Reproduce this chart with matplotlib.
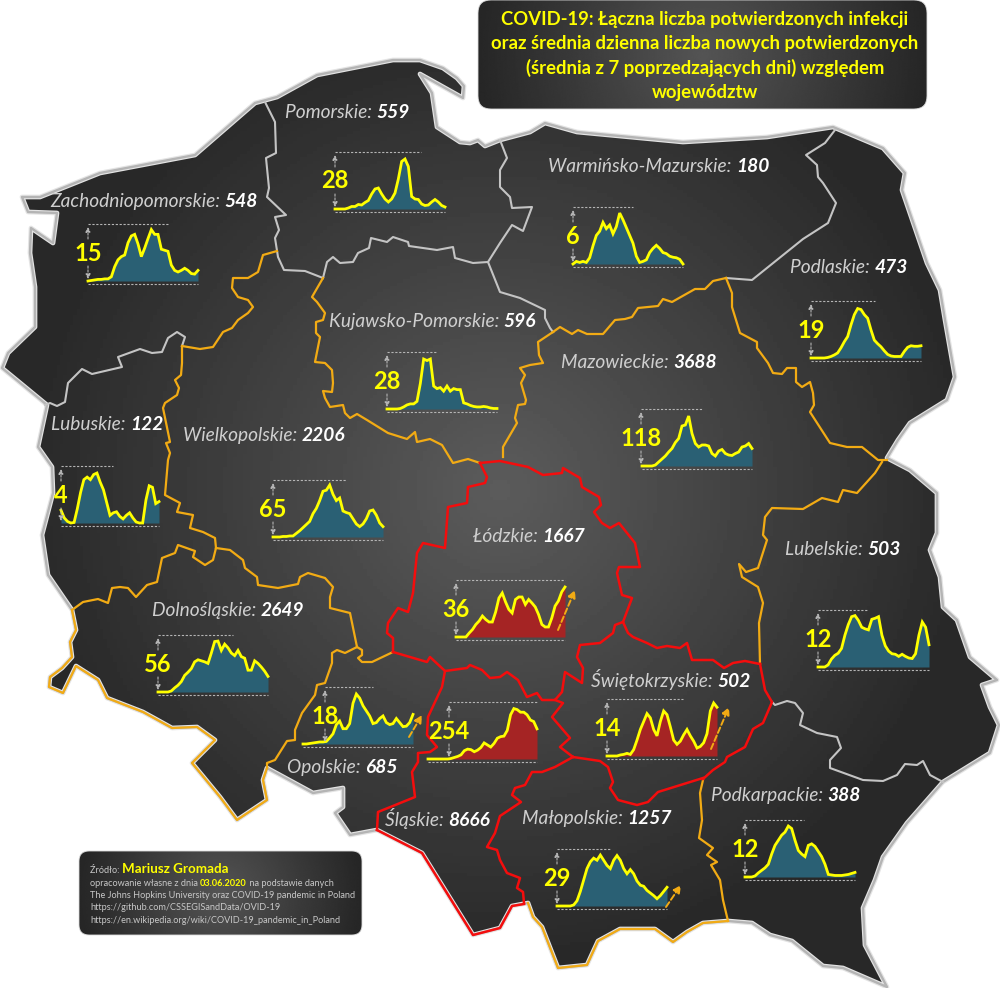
import numpy as np
import matplotlib
matplotlib.use('Agg')
import matplotlib.pyplot as plt
from matplotlib.patches import Polygon, FancyBboxPatch

plt.rcParams['font.family'] = ['Lato', 'DejaVu Sans']

W, H = 1000, 988
YELLOW = '#ffff00'
ORANGE = '#f2ab14'
RED = '#f40d0d'
GRAY = '#c4c4c4'
BLUE_FILL = '#2a6074'
RED_FILL = '#a52424'

# totals and peaks printed on the map
names = ['Zachodniopomorskie', 'Pomorskie', 'Warmińsko-Mazurskie', 'Podlaskie',
         'Kujawsko-Pomorskie', 'Mazowieckie', 'Lubuskie', 'Wielkopolskie',
         'Łódzkie', 'Lubelskie', 'Dolnośląskie', 'Opolskie',
         'Świętokrzyskie', 'Śląskie', 'Małopolskie', 'Podkarpackie']
totals = [548, 559, 180, 473, 596, 3688, 122, 2206, 1667, 503, 2649, 685, 502, 8666, 1257, 388]
peaks = [15, 28, 6, 19, 28, 118, 4, 65, 36, 12, 56, 18, 14, 254, 29, 12]

# daily new cases as percent of each region's peak
zach = [0, 1, 2, 3, 3, 4, 4, 8, 27, 40, 46, 49, 72, 85, 88, 70, 46, 62, 80, 97, 88, 88, 60, 58, 56, 30, 20, 17, 20, 24, 20, 14, 13, 20]
pom = [0, 0, 0, 0, 2, 5, 5, 9, 8, 13, 17, 30, 40, 42, 30, 20, 14, 20, 32, 60, 95, 100, 85, 25, 20, 19, 10, 7, 8, 14, 19, 14, 7, 4]
warm = [0, 5, 3, 5, 3, 12, 35, 55, 63, 80, 68, 75, 58, 72, 98, 85, 70, 55, 40, 15, 3, 5, 8, 22, 30, 36, 30, 22, 20, 15, 13, 12, 9, 0]
podl = [0, 0, 0, 0, 0, 1, 3, 6, 10, 20, 32, 42, 65, 85, 97, 95, 85, 78, 55, 35, 28, 22, 14, 7, 4, 3, 3, 3, 13, 21, 24, 23, 23, 24]
kuj = [0, 0, 0, 0, 1, 4, 8, 10, 10, 15, 50, 98, 95, 98, 45, 40, 42, 35, 45, 35, 40, 38, 38, 12, 10, 7, 5, 4, 4, 5, 4, 2, 1, 1]
maz = [0, 0, 0, 0, 2, 8, 14, 20, 28, 35, 47, 55, 80, 82, 100, 65, 45, 38, 42, 42, 40, 25, 20, 30, 33, 25, 22, 21, 25, 28, 38, 40, 45, 35]
lubu = [25, 10, 3, 0, 1, 28, 60, 85, 90, 85, 95, 98, 80, 65, 40, 15, 20, 22, 13, 8, 15, 20, 10, 2, 0, 0, 45, 73, 70, 38, 42]
wiel = [0, 0, 0, 1, 1, 2, 2, 7, 12, 18, 24, 30, 45, 55, 70, 88, 90, 100, 82, 70, 75, 50, 47, 45, 35, 25, 20, 25, 35, 50, 52, 42, 27, 20]
lodz = [0, 0, 0, 0, 8, 15, 25, 32, 42, 35, 30, 30, 50, 78, 88, 70, 55, 48, 75, 80, 80, 65, 75, 68, 60, 45, 25, 20, 20, 38, 62, 72, 90, 100]
lube = [0, 0, 0, 4, 15, 22, 26, 35, 60, 80, 95, 97, 88, 75, 72, 70, 90, 92, 95, 60, 40, 30, 25, 24, 20, 24, 20, 17, 16, 25, 60, 85, 75, 42]
dol = [0, 0, 0, 0, 2, 8, 13, 20, 32, 38, 45, 58, 62, 60, 58, 55, 75, 97, 98, 80, 92, 85, 75, 70, 80, 68, 65, 42, 42, 60, 55, 48, 40, 30]
opo = [0, 0, 1, 2, 3, 4, 4, 5, 12, 20, 38, 45, 30, 30, 40, 80, 98, 90, 75, 65, 55, 40, 42, 50, 55, 42, 38, 40, 50, 42, 34, 35, 42, 58]
swie = [0, 0, 0, 0, 2, 3, 5, 3, 12, 30, 50, 65, 80, 72, 50, 38, 65, 85, 78, 55, 30, 22, 28, 40, 50, 38, 28, 15, 18, 25, 42, 85, 100, 92]
slas = [0, 0, 0, 0, 0, 0, 0, 1, 3, 5, 8, 16, 19, 18, 14, 17, 22, 31, 27, 23, 30, 40, 43, 44, 55, 85, 97, 95, 90, 90, 85, 75, 72, 58]
malo = [0, 0, 0, 0, 0, 2, 10, 28, 50, 72, 85, 92, 88, 98, 88, 78, 72, 88, 97, 88, 72, 62, 70, 62, 48, 40, 38, 30, 25, 20, 14, 20, 28, 36]
podk = [0, 0, 0, 2, 8, 13, 18, 25, 45, 62, 72, 82, 88, 100, 95, 72, 52, 45, 40, 62, 65, 60, 50, 40, 25, 5, 4, 3, 3, 3, 4, 5, 7, 9]
series = [zach, pom, warm, podl, kuj, maz, lubu, wiel, lodz, lube, dol, opo, swie, slas, malo, podk]

# map geometry, traced in image pixels
outline = [(22, 197), (40, 197), (100, 173), (195, 155), (255, 103), (277, 97), (317, 75), (393, 60),
           (420, 60), (443, 68), (457, 78), (464, 86), (463, 98), (420, 74), (432, 93), (437, 127),
           (460, 142), (470, 143), (478, 140), (485, 146), (500, 140), (530, 132), (545, 123), (577, 132),
           (683, 142), (767, 137), (833, 127), (883, 148), (905, 173), (902, 190), (927, 263), (940, 290),
           (945, 320), (955, 377), (947, 400), (910, 423), (898, 440), (887, 458), (910, 470), (937, 493),
           (937, 533), (930, 550), (940, 577), (943, 607), (957, 620), (970, 657), (997, 680), (982, 685),
           (990, 707), (999, 725), (990, 753), (943, 782), (907, 823), (883, 857), (875, 880), (863, 908),
           (865, 945), (887, 987), (843, 968), (823, 966), (792, 941), (770, 935), (752, 923), (728, 921),
           (703, 923), (687, 932), (673, 942), (655, 929), (620, 929), (598, 941), (587, 965), (558, 968),
           (542, 927), (533, 917), (528, 903), (512, 906), (500, 928), (473, 935), (422, 853), (377, 830),
           (350, 835), (335, 813), (343, 807), (343, 788), (313, 793), (267, 768), (263, 780), (267, 800),
           (237, 820), (220, 797), (192, 763), (215, 740), (197, 727), (172, 728), (143, 712), (107, 698),
           (98, 680), (76, 666), (63, 693), (49, 687), (50, 677), (62, 668), (72, 657), (70, 642),
           (76, 630), (72, 610), (48, 575), (42, 535), (53, 493), (52, 467), (38, 447), (47, 405),
           (2, 368), (8, 353), (35, 327), (35, 287), (30, 253), (31, 228), (53, 243), (57, 213), (28, 212)]

gray_borders = [
    [(265, 102), (275, 122), (276, 153), (266, 158), (269, 188), (267, 197), (286, 215), (275, 217), (279, 230), (275, 238), (278, 257), (284, 270), (305, 271), (323, 278)],
    [(323, 278), (327, 262), (333, 257), (340, 263), (353, 262), (358, 253), (369, 248), (371, 238), (387, 242), (393, 237), (408, 242), (409, 246), (437, 250), (453, 247), (455, 258), (473, 263), (488, 262), (500, 292), (520, 298), (545, 310), (545, 318), (550, 328), (553, 332)],
    [(488, 262), (500, 243), (512, 225), (523, 231), (532, 207), (512, 208), (510, 197), (500, 187), (500, 170), (507, 158), (500, 140)],
    [(726, 278), (752, 280), (803, 239), (828, 223), (836, 203), (823, 183), (818, 177), (817, 165), (806, 155), (825, 143), (835, 130)],
    [(772, 702), (775, 705), (787, 701), (795, 703), (803, 713), (800, 725), (817, 733), (837, 737), (841, 748), (830, 760), (830, 768), (863, 780), (883, 781), (897, 775), (905, 764), (917, 765), (923, 761), (930, 775), (943, 782)],
    [(182, 346), (185, 337), (177, 332), (168, 338), (162, 352), (152, 353), (140, 349), (118, 357), (122, 367), (92, 374), (82, 369), (68, 383), (65, 402), (57, 406), (50, 403), (45, 405)],
]
orange_borders = [
    [(553, 332), (560, 327), (572, 334), (578, 330), (587, 334), (603, 334), (615, 320), (625, 319), (632, 317), (638, 308), (658, 306), (663, 299), (672, 302), (695, 289), (705, 289), (713, 281), (726, 278)],
    [(726, 278), (732, 293), (732, 307), (740, 333), (757, 342), (757, 348), (768, 363), (773, 373), (782, 374), (787, 368), (796, 368), (796, 382), (802, 387), (810, 382), (813, 393), (814, 405), (810, 412), (830, 443), (847, 447), (862, 447), (878, 460), (887, 460)],
    [(882, 462), (875, 473), (857, 493), (843, 490), (838, 502), (822, 498), (803, 509), (772, 508), (765, 517), (763, 535), (767, 540), (758, 568), (746, 572), (739, 564), (742, 577), (758, 587), (763, 603), (759, 623), (760, 664)],
    [(277, 251), (263, 255), (258, 272), (248, 278), (233, 278), (232, 288), (238, 297), (248, 300), (253, 307), (248, 313), (238, 320), (232, 328), (223, 332), (213, 347), (200, 349), (182, 346)],
    [(182, 346), (182, 363), (181, 375), (175, 380), (179, 388), (177, 395), (165, 403), (163, 408), (170, 442), (166, 443), (170, 453), (168, 460), (165, 495), (180, 503), (177, 512), (193, 515), (190, 528), (203, 532), (215, 538), (216, 548)],
    [(72, 610), (83, 602), (98, 599), (108, 603), (112, 588), (120, 587), (128, 588), (136, 597), (147, 585), (157, 582), (162, 558), (175, 553), (178, 545), (195, 551), (193, 557), (205, 565), (213, 560), (216, 548)],
    [(216, 548), (230, 550), (243, 560), (245, 568), (257, 577), (258, 585), (278, 588), (298, 584), (300, 577), (308, 573), (325, 578), (333, 587), (330, 597), (330, 608), (350, 613), (357, 647)],
    [(357, 647), (362, 650), (362, 655), (358, 658), (362, 662), (372, 662), (393, 652)],
    [(357, 647), (345, 653), (337, 650), (332, 653), (332, 663), (325, 683), (317, 685), (315, 695), (302, 713), (295, 730), (295, 740), (287, 741), (275, 760), (267, 763), (267, 768)],
    [(323, 278), (312, 297), (317, 302), (325, 313), (323, 320), (316, 322), (316, 333), (320, 337), (315, 362), (325, 363), (332, 370), (333, 383), (332, 392), (323, 391), (325, 398), (330, 407), (343, 405), (345, 413), (350, 418), (357, 414), (367, 420), (388, 433), (407, 439), (415, 432), (417, 442), (430, 439), (442, 445), (453, 463), (468, 459), (480, 463)],
    [(553, 332), (538, 342), (539, 355), (543, 363), (530, 365), (520, 368), (525, 375), (521, 383), (526, 400), (525, 404), (518, 405), (515, 418), (517, 423), (510, 435), (503, 447), (503, 457)],
    [(703, 780), (700, 793), (702, 820), (699, 838), (713, 848), (707, 855), (717, 862), (711, 865), (720, 880), (723, 900), (728, 921)],
    [(728, 921), (703, 923), (687, 932), (673, 942), (655, 929), (620, 929), (598, 941), (587, 965), (558, 968), (542, 927), (533, 917), (528, 903)],
    [(72, 610), (76, 630), (70, 642), (72, 657), (62, 668), (50, 677), (49, 687), (63, 693), (76, 666), (98, 680), (107, 698), (143, 712), (172, 728), (197, 727), (215, 740), (192, 763), (220, 797), (237, 820), (267, 800), (263, 780), (267, 768)],
]
red_borders = [
    [(760, 664), (765, 690), (772, 702), (763, 723), (753, 729), (745, 747), (727, 757), (725, 762), (713, 770), (703, 779)],
    [(760, 664), (745, 661), (733, 663), (724, 668), (713, 660), (692, 660), (687, 643), (680, 648), (667, 646), (657, 648), (647, 643), (633, 637), (628, 633), (623, 622)],
    [(623, 622), (632, 598), (622, 595), (617, 573), (619, 567), (640, 567), (635, 543), (619, 523), (610, 528), (602, 523), (594, 512), (601, 505), (599, 497), (582, 487), (580, 478), (563, 468), (562, 473), (543, 475), (528, 467), (500, 461), (480, 463)],
    [(480, 463), (487, 477), (485, 483), (468, 487), (467, 503), (448, 507), (445, 548), (423, 543), (417, 553), (413, 593), (408, 612), (398, 608), (388, 623), (387, 633), (393, 638), (393, 652)],
    [(393, 652), (427, 662), (430, 657), (445, 671), (467, 668), (470, 665), (482, 670), (490, 678), (500, 677), (507, 672), (518, 680), (527, 697), (537, 693), (542, 700), (555, 700), (562, 692), (565, 672), (582, 683), (583, 668), (577, 657), (580, 645), (600, 643), (613, 633), (615, 625), (623, 622)],
    [(555, 700), (563, 703), (552, 717), (570, 738), (560, 747), (573, 757)],
    [(573, 757), (600, 761), (608, 767), (613, 782), (610, 788), (618, 800), (637, 805), (648, 802), (658, 792), (703, 778)],
    [(573, 757), (555, 767), (542, 772), (532, 772), (525, 785), (515, 788), (512, 795), (521, 802), (500, 816), (495, 833), (487, 847), (497, 850), (500, 860), (507, 873), (520, 878), (517, 888), (523, 892), (524, 903)],
    [(445, 671), (442, 687), (428, 717), (427, 735), (437, 747), (430, 752), (418, 753), (418, 762), (412, 772), (415, 797), (378, 812), (377, 830)],
    [(377, 830), (422, 853), (473, 935), (500, 928), (512, 906), (524, 904)],
]

# where each panel sits: x0, x1, y of zero, y of peak, end of top dash, x of the range arrow, label x, label y
panels = {
    'Zachodniopomorskie': (88, 198, 281, 228, 168, 88, 50, 202),
    'Pomorskie': (335, 445, 209, 159, 421, 335, 285, 113),
    'Warmińsko-Mazurskie': (573, 683, 264, 212, 633, 573, 548, 167),
    'Podlaskie': (811, 921, 358, 307, 875, 811, 790, 268),
    'Kujawsko-Pomorskie': (387, 497, 409, 358, 437, 387, 329, 322),
    'Mazowieckie': (642, 752, 466, 416, 702, 641, 561, 363),
    'Lubuskie': (61, 159, 523, 472, 113, 61, 51, 425),
    'Wielkopolskie': (273, 383, 537, 485, 346, 273, 183, 436),
    'Łódzkie': (456, 565, 637, 587, 565, 456, 473, 537),
    'Lubelskie': (818, 929, 667, 614, 867, 818, 785, 550),
    'Dolnośląskie': (158, 268, 692, 640, 233, 158, 152, 611),
    'Opolskie': (303, 413, 744, 693, 373, 325, 287, 768),
    'Świętokrzyskie': (607, 717, 756, 703, 683, 607, 591, 682),
    'Śląskie': (428, 537, 759, 707, 537, 449, 385, 821),
    'Małopolskie': (557, 667, 906, 854, 610, 557, 522, 819),
    'Podkarpackie': (745, 855, 877, 826, 804, 745, 711, 796),
}
red_regions = ['Łódzkie', 'Świętokrzyskie', 'Śląskie']
rising = {'Łódzkie': ((558, 630), (575, 590)), 'Opolskie': ((409, 737), (422, 715)),
          'Świętokrzyskie': ((711, 749), (729, 707)), 'Małopolskie': ((666, 907), (681, 885))}


def radial(cx, cy, rx, ry, x0, x1, y0, y1, inner=0.36, outer=0.16):
    xx, yy = np.meshgrid(np.linspace(x0, x1, 300), np.linspace(y0, y1, 300))
    r = np.clip(np.sqrt(((xx - cx) / rx) ** 2 + ((yy - cy) / ry) ** 2), 0, 1)
    return inner + (outer - inner) * r


fig = plt.figure(figsize=(W / 100, H / 100), dpi=100, facecolor='white')
ax = fig.add_axes([0, 0, 1, 1], zorder=0)
ax.set_xlim(0, W)
ax.set_ylim(H, 0)
ax.axis('off')
# second layer above the small charts, for text and arrows
top = fig.add_axes([0, 0, 1, 1], zorder=5)
top.set_xlim(0, W)
top.set_ylim(H, 0)
top.axis('off')
renderer = fig.canvas.get_renderer()


def chain(x, y, parts, z=7, **kw):
    # several styles on one baseline
    for text, style in parts:
        t = top.text(x, y, text, va='baseline', zorder=z, **style, **kw)
        x += t.get_window_extent(renderer).width


# map body with a soft light edge
ax.add_patch(Polygon(outline, closed=True, fc='none', ec='#e4e4e4', lw=3.4, joinstyle='round', zorder=2))
poly = Polygon(outline, closed=True, fc='none', ec='#b4b4b4', lw=1.7, joinstyle='round', zorder=2)
ax.add_patch(poly)
img = ax.imshow(radial(500, 490, 470, 470, 0, W, 0, H), extent=(0, W, H, 0), cmap='gray',
                vmin=0, vmax=1, aspect='auto', zorder=1)
img.set_clip_path(poly)

for segs, color, lw in [(gray_borders, GRAY, 1.5), (orange_borders, ORANGE, 1.6), (red_borders, RED, 1.8)]:
    for seg in segs:
        pts = np.array(seg)
        ax.plot(pts[:, 0], pts[:, 1], color=color, lw=lw, solid_joinstyle='round', zorder=3)

for name, total, peak, vals in zip(names, totals, peaks, series):
    x0, x1, y_zero, y_peak, top_end, arrow_x, lab_x, lab_y = panels[name]
    sub = fig.add_axes([x0 / W, 1 - y_zero / H, (x1 - x0) / W, (y_zero - y_peak) / H], zorder=2)
    sub.patch.set_alpha(0)
    sub.axis('off')
    xs = np.arange(len(vals))
    ys = np.array(vals) * peak / 100.0
    sub.set_xlim(0, len(vals) - 1)
    sub.set_ylim(0, peak)
    fill = RED_FILL if name in red_regions else BLUE_FILL
    sub.fill_between(xs, ys, 0, color=fill, lw=0)
    sub.plot(xs, ys, color=YELLOW, lw=2.0, clip_on=False, solid_joinstyle='miter')

    # dashed range frame
    ax.plot([x0, x1], [y_zero + 3, y_zero + 3], color='#b5b5b5', lw=0.8, ls=(0, (2, 1.5)), zorder=4)
    ax.plot([arrow_x, top_end], [y_zero - 57, y_zero - 57], color='#b5b5b5', lw=0.8, ls=(0, (2, 1.5)), zorder=4)
    mid = y_zero - 28
    for a, b in [(mid - 14, y_zero - 54), (mid + 13, y_zero - 2)]:
        top.annotate('', xy=(arrow_x, b), xytext=(arrow_x, a),
                     arrowprops=dict(arrowstyle='-|>', color='#b5b5b5', lw=0.8, ls=(0, (2, 1.5)), mutation_scale=7,
                                     shrinkA=0, shrinkB=0), zorder=4)
    top.text(arrow_x, mid, str(peak), color=YELLOW, fontsize=17, fontweight='bold', ha='center', va='center', zorder=6)

    if name in rising:
        start, end = rising[name]
        top.annotate('', xy=end, xytext=start,
                     arrowprops=dict(arrowstyle='-|>', color=ORANGE, lw=1.4, ls=(0, (3, 1.5)), mutation_scale=11,
                                     shrinkA=0, shrinkB=0), zorder=6)

    chain(lab_x, lab_y + 5, [(name + ': ', dict(color='#cfcfcf')),
                             (str(total), dict(color='white', fontweight='bold'))],
          fontsize=13.8, style='italic')


def rounded_panel(x0, y0, x1, y1, rad):
    box = FancyBboxPatch((x0 + rad, y0 + rad), x1 - x0 - 2 * rad, y1 - y0 - 2 * rad,
                         boxstyle='round,pad=%d,rounding_size=%d' % (rad, rad),
                         fc='none', ec='#dcdcdc', lw=0.6, zorder=9)
    top.add_patch(box)
    im = top.imshow(radial((x0 + x1) / 2, (y0 + y1) / 2, (x1 - x0) / 2, (x1 - x0) / 2, x0, x1, y0, y1, 0.33, 0.15),
                    extent=(x0, x1, y1, y0), cmap='gray', vmin=0, vmax=1, aspect='auto', zorder=8)
    im.set_clip_path(box)


# title
rounded_panel(478, 0, 927, 109, 13)
title_lines = ['COVID-19: Łączna liczba potwierdzonych infekcji',
               'oraz średnia dzienna liczba nowych potwierdzonych',
               '(średnia z 7 poprzedzających dni) względem',
               'województw']
for i, line in enumerate(title_lines):
    top.text(705, 19 + i * 24.5, line, color=YELLOW, fontsize=13.3, fontweight='bold', ha='center', va='center', zorder=10)

# source note
rounded_panel(79, 851, 362, 935, 10)
note = dict(color='#c8c8c8', fontsize=6.55)
chain(90, 873, [('Źródło: ', note), ('Mariusz Gromada', dict(color=YELLOW, fontsize=9.6, fontweight='bold'))], z=10)
chain(90, 886, [('opracowanie własne z dnia ', note),
                ('03.06.2020', dict(color=YELLOW, fontsize=6.55, fontweight='bold')),
                (' na podstawie danych', note)], z=10)
source_lines = ['The Johns Hopkins University oraz COVID-19 pandemic in Poland',
                'https://github.com/CSSEGISandData/OVID-19',
                'https://en.wikipedia.org/wiki/COVID-19_pandemic_in_Poland']
for i, line in enumerate(source_lines):
    top.text(90, 898 + i * 12.3, line, va='baseline', zorder=10, **note)

for layer in (ax, top):
    layer.set_xlim(0, W)
    layer.set_ylim(H, 0)

fig.savefig('out.png', dpi=100)
